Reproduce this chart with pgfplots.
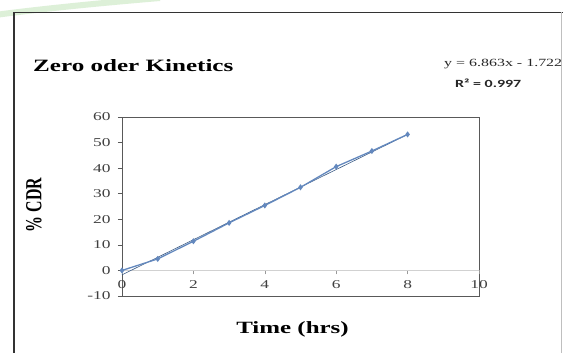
\documentclass[border=0pt]{standalone}
\usepackage{pgfplots}
\pgfplotsset{compat=1.18}
\usepackage{fontspec}
\setmainfont{Liberation Serif}
\newfontfamily\wserif[FakeStretch=1.45]{Liberation Serif}
\newfontfamily\nserif[FakeStretch=0.69]{Liberation Serif}
\newfontfamily\wsans[FakeStretch=1.45]{Carlito}
\definecolor{serblue}{HTML}{6388BE}
\definecolor{trendc}{HTML}{3B5B85}
\definecolor{axgray}{HTML}{595959}
\definecolor{tickc}{HTML}{404040}
\definecolor{swoosh}{HTML}{D5EDCF}
\begin{document}
\begin{tikzpicture}[x=1pt,y=1pt]
\useasboundingbox (0,0) rectangle (563,-353);
\fill[white] (0,0) rectangle (563,-353);
\draw[swoosh, line width=6pt, opacity=0.8] (-5,-15) .. controls (40,-9) and (100,-3) .. (160,2);
\draw[black!80, line width=1.3pt] (14,-353) -- (14,-12.5) -- (563,-12.5);
\draw[black!25, line width=0.8pt] (561.5,-12.5) -- (561.5,-353);
\begin{axis}[at={(122pt,-296pt)}, anchor=south west, scale only axis,
  width=357pt, height=179pt, xmin=0, xmax=10, ymin=-10, ymax=60,
  xtick=\empty, ytick={-10,0,...,60}, ytick pos=left,
  axis line style={draw=axgray, line width=0.9pt},
  tick align=outside, major tick length=4pt,
  ytick style={draw=axgray, line width=0.6pt},
  yticklabel style={font=\wserif\fontsize{12}{12}\selectfont, text=tickc, xshift=-4pt},
  /pgf/number format/assume math mode=true]
\end{axis}
\begin{axis}[at={(122pt,-296pt)}, anchor=south west, scale only axis,
  width=357pt, height=179pt, xmin=0, xmax=10, ymin=-10, ymax=60,
  axis x line=middle, axis y line=none, xtick={0,2,...,10},
  x axis line style={draw=black!18, line width=0.8pt, -},
  xtick style={draw=black!40, line width=0.6pt},
  tick align=outside, major tick length=4pt,
  xticklabel style={font=\wserif\fontsize{12}{12}\selectfont, text=tickc, yshift=-3pt},
  /pgf/number format/assume math mode=true, clip=false]
\addplot[trendc, line width=0.6pt] coordinates {(0,-1.722) (8,53.182)};
\addplot[serblue, line width=1.3pt, mark=diamond*, mark size=2pt, mark options={fill=serblue, draw=serblue}] coordinates {
(0,0) (1,4.5) (2,11.4) (3,18.6) (4,25.4) (5,32.5) (6,40.6) (7,46.7) (8,53.2)};
\end{axis}
\node[anchor=base west, inner sep=0, font=\wserif\bfseries\fontsize{17.3}{20}\selectfont] at (33,-72) {Zero oder Kinetics};
\node[anchor=base west, inner sep=0, font=\wserif\fontsize{11}{13}\selectfont, text=black!85] at (444,-67) {y = 6.863x - 1.722};
\node[anchor=base west, inner sep=0, font=\wsans\bfseries\fontsize{11}{13}\selectfont, text=black!85] at (455,-88) {R² = 0.997};
\node[anchor=base, inner sep=0, font=\wserif\bfseries\fontsize{17.2}{20}\selectfont] at (292.5,-333) {Time (hrs)};
\node[rotate=90, inner sep=0, font=\nserif\bfseries\fontsize{23}{24}\selectfont] at (34,-205) {\% CDR};
\end{tikzpicture}
\end{document}
